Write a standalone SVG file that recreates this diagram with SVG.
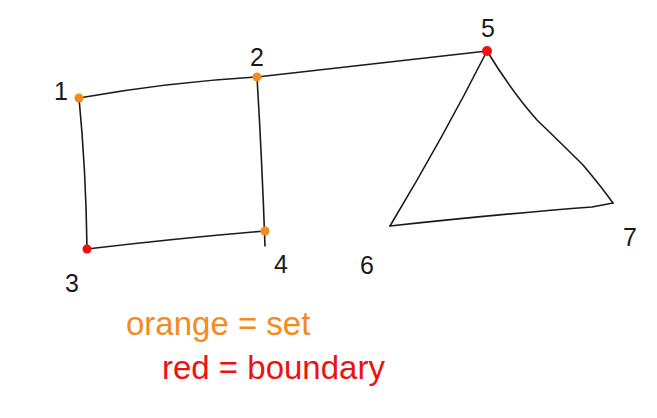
<svg xmlns="http://www.w3.org/2000/svg" width="657" height="418" viewBox="0 0 657 418">
<style>
.e{fill:none;stroke:#1a1a1a;stroke-width:1.6;stroke-linecap:round;stroke-linejoin:round}
.lb{font-family:"Liberation Sans","DejaVu Sans",sans-serif;font-size:25px;fill:#1a1a1a;text-anchor:middle}
.set{fill:#f58a1f}
.bnd{fill:#ee1111}
.lg{font-family:"Liberation Sans",sans-serif;font-size:33px}
</style>
<rect width="657" height="418" fill="#ffffff"/>
<g id="connectors">
<path class="e" d="M79,98 Q170,82 257,77"/>
<path class="e" d="M257,77 L487,51"/>
<path class="e" d="M79,98 Q86,170 87,249"/>
<path class="e" d="M257,77 Q262,160 265,246"/>
<path class="e" d="M87,249 Q180,238 265,231"/>
<path class="e" d="M487,51 Q444,136 390,226"/>
<path class="e" d="M487,51 Q512,92 537,120 Q565,147 583,165 Q600,185 613,203"/>
<path class="e" d="M613,203 L592,207 Q500,214 390,226"/>
</g>
<g id="node1"><circle class="set" cx="79" cy="98" r="4.5"/><text class="lb" x="61" y="100">1</text></g>
<g id="node2"><circle class="set" cx="257" cy="77" r="4.5"/><text class="lb" x="257" y="66">2</text></g>
<g id="node3"><circle class="bnd" cx="87" cy="249" r="4.5"/><text class="lb" x="72" y="292">3</text></g>
<g id="node4"><circle class="set" cx="265" cy="231" r="4.5"/><text class="lb" x="281" y="273">4</text></g>
<g id="node5"><circle class="bnd" cx="487" cy="51" r="5"/><text class="lb" x="488" y="37">5</text></g>
<g id="node6"><text class="lb" x="367" y="274">6</text></g>
<g id="node7"><text class="lb" x="630" y="246">7</text></g>
<g id="legend">
<text class="lg set" x="126" y="335">orange = set</text>
<text class="lg bnd" x="162" y="379">red = boundary</text>
</g>
</svg>
